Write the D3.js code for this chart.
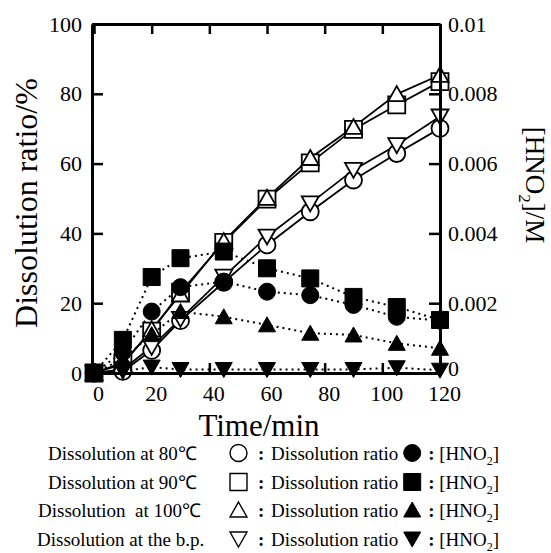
<!DOCTYPE html>
<html><head><meta charset="utf-8">
<script src="https://cdn.jsdelivr.net/npm/d3@7"></script>
<style>
html,body{margin:0;padding:0;background:#fff;}
svg{display:block;}
text{font-family:"Liberation Serif","Times New Roman",serif;fill:#000;}
</style></head>
<body>
<svg id="chart" width="551" height="553"></svg>
<script>
// ---- data ----
const times = [0, 10, 20, 30, 45, 60, 75, 90, 105, 120];
const ratio80  = [0, 0.5, 6.5, 15.0, 26.0, 36.7, 46.2, 55.3, 62.9, 70.1];
const ratio90  = [0, 3.0, 12.0, 23.2, 37.4, 49.8, 60.2, 69.8, 76.8, 83.5];
const ratio100 = [0, 2.5, 12.5, 22.5, 37.8, 50.2, 61.6, 70.5, 79.9, 85.4];
const ratioBP  = [0, 1.0, 7.5, 15.5, 27.6, 39.1, 48.6, 58.2, 65.3, 73.5];
const hno2_80  = [0, 0.0006, 0.00176, 0.00246, 0.00262, 0.00233, 0.00223, 0.00195, 0.00161, 0.0015];
const hno2_90  = [0, 0.00095, 0.00275, 0.00329, 0.00348, 0.0030, 0.00271, 0.00218, 0.00189, 0.00152];
const hno2_100 = [0, 0.0004, 0.0011, 0.00176, 0.00161, 0.00138, 0.00114, 0.00109, 0.00085, 0.00071];
const hno2_bp  = [0, 0.00005, 0.00017, 0.0001, 0.0001, 0.0001, 0.0001, 0.0001, 0.00015, 0.00008];
const xTicks = [0, 20, 40, 60, 80, 100, 120];
const yTicks = [0, 20, 40, 60, 80, 100];
const y2Ticks = [0, 0.002, 0.004, 0.006, 0.008, 0.01];
const y2Labels = ["0", "0.002", "0.004", "0.006", "0.008", "0.01"];
const legendLabels = ["Dissolution at 80\u2103", "Dissolution at 90\u2103", "Dissolution  at 100\u2103", "Dissolution at the b.p."];
const xTitle = "Time/min";
const yTitle = "Dissolution ratio/%";

// ---- scales ----
const svg = d3.select("#chart");
const x = d3.scaleLinear().domain([-0.7, 120]).range([92, 440]);
const y = d3.scaleLinear().domain([0, 100]).range([373, 24]);
const y2 = d3.scaleLinear().domain([0, 0.01]).range([373, 24]);

// symbols
const MS = 17;
function sym(kind){
  const p = d3.path();
  const h = MS/2;
  if(kind==="circle"){ p.arc(0,0,h,0,2*Math.PI); }
  else if(kind==="square"){ p.rect(-h,-h,MS,MS); }
  else if(kind==="up"){ p.moveTo(0,-8); p.lineTo(8.5,7); p.lineTo(-8.5,7); p.closePath(); }
  else if(kind==="down"){ p.moveTo(0,8); p.lineTo(8.5,-7); p.lineTo(-8.5,-7); p.closePath(); }
  return p.toString();
}

const openSeries = [
  {vals: ratio90, kind:"square"},
  {vals: ratio100, kind:"up"},
  {vals: ratio80, kind:"circle"},
  {vals: ratioBP, kind:"down"}
];
const filledSeries = [
  {vals: hno2_bp, kind:"down"},
  {vals: hno2_100, kind:"up"},
  {vals: hno2_80, kind:"circle"},
  {vals: hno2_90, kind:"square"}
];

// ---- lines ----
const lineY = d3.line().x((d,i)=>x(times[i])).y(d=>y(d));
const lineY2 = d3.line().x((d,i)=>x(times[i])).y(d=>y2(d));

const gOpen = svg.append("g");
openSeries.forEach(s=>{
  gOpen.append("path").attr("d", lineY(s.vals)).attr("fill","none")
    .attr("stroke","#000").attr("stroke-width",1.8);
});
const gDot = svg.append("g");
filledSeries.forEach(s=>{
  gDot.append("path").attr("d", lineY2(s.vals)).attr("fill","none")
    .attr("stroke","#000").attr("stroke-width",2).attr("stroke-dasharray","2,4");
});
// open markers
openSeries.forEach(s=>{
  gOpen.append("g").selectAll(null).data(s.vals).join("path")
    .attr("transform",(d,i)=>`translate(${x(times[i])},${y(d)})`)
    .attr("d", sym(s.kind)).attr("fill","#fff").attr("stroke","#000").attr("stroke-width",1.8);
});
// filled markers
filledSeries.forEach(s=>{
  svg.append("g").selectAll(null).data(s.vals).join("path")
    .attr("transform",(d,i)=>`translate(${x(times[i])},${y2(d)})`)
    .attr("d", sym(s.kind)).attr("fill","#000").attr("stroke","#000").attr("stroke-width",1);
});

// ---- axes ----
function styleAxis(g){
  g.attr("font-family",'"Liberation Serif","Times New Roman",serif');
  g.select(".domain").attr("stroke","#000").attr("stroke-width",3);
  g.selectAll(".tick line").attr("stroke","#000").attr("stroke-width",2.5);
  g.selectAll(".tick text").attr("font-size",22);
}
const gx = svg.append("g").attr("transform","translate(0,373)")
  .call(d3.axisBottom(x).tickValues(xTicks).tickSize(-10).tickSizeOuter(0).tickPadding(12).tickFormat(d3.format("d")));
styleAxis(gx); gx.selectAll(".tick text").attr("x",4);
const gxt = svg.append("g").attr("transform","translate(0,24)")
  .call(d3.axisTop(x).tickValues(xTicks).tickSize(-10).tickSizeOuter(0).tickFormat(""));
styleAxis(gxt);
const gy = svg.append("g").attr("transform","translate(92,0)")
  .call(d3.axisLeft(y).tickValues(yTicks).tickSize(-11).tickSizeOuter(0).tickPadding(10).tickFormat(d3.format("d")));
styleAxis(gy);
const gy2 = svg.append("g").attr("transform","translate(440,0)")
  .call(d3.axisRight(y2).tickValues(y2Ticks).tickSize(-11).tickSizeOuter(0).tickPadding(8).tickFormat((d,i)=>y2Labels[i]));
styleAxis(gy2);
gy2.selectAll(".tick text").filter(d=>d===0).attr("dy","0.1em");

// ---- titles ----
svg.append("text").attr("x",259).attr("y",436).attr("text-anchor","middle")
  .attr("font-size",31).text(xTitle);
svg.append("text").attr("transform","translate(37,203) rotate(-90)").attr("text-anchor","middle")
  .attr("font-size",32).text(yTitle);
const rt = svg.append("text").attr("transform","translate(526,185) rotate(90)").attr("text-anchor","middle")
  .attr("font-size",27);
rt.append("tspan").text("[HNO");
rt.append("tspan").attr("font-size",17).attr("dy",7).text("2");
rt.append("tspan").attr("dy",-7).text("]/M");

// ---- legend ----
const legX0 = [48, 48, 38, 37];
const legBase = [460, 489, 517, 546];
const openKinds = ["circle","square","up","down"];
openKinds.forEach((k,i)=>{
  const by = legBase[i];
  svg.append("text").attr("x",legX0[i]).attr("y",by).attr("font-size",19)
    .attr("xml:space","preserve").style("white-space","pre").text(legendLabels[i]);
  svg.append("path").attr("transform",`translate(238.5,${by-7})`).attr("d",sym(k))
    .attr("fill","#fff").attr("stroke","#000").attr("stroke-width",1.4);
  svg.append("text").attr("x",258).attr("y",by).attr("font-size",19).attr("font-weight","bold").text(":");
  const t2 = svg.append("text").attr("x",271).attr("y",by).attr("font-size",19).text("Dissolution ratio");
  const end = 271 + t2.node().getComputedTextLength();
  svg.append("path").attr("transform",`translate(${end+14},${by-7})`).attr("d",sym(k))
    .attr("fill","#000").attr("stroke","#000").attr("stroke-width",1);
  svg.append("text").attr("x",end+30).attr("y",by).attr("font-size",19).attr("font-weight","bold").text(":");
  const t3 = svg.append("text").attr("x",end+41).attr("y",by).attr("font-size",19);
  t3.append("tspan").text("[HNO");
  t3.append("tspan").attr("font-size",12).attr("dy",5).text("2");
  t3.append("tspan").attr("dy",-5).text("]");
});
</script>
</body></html>
